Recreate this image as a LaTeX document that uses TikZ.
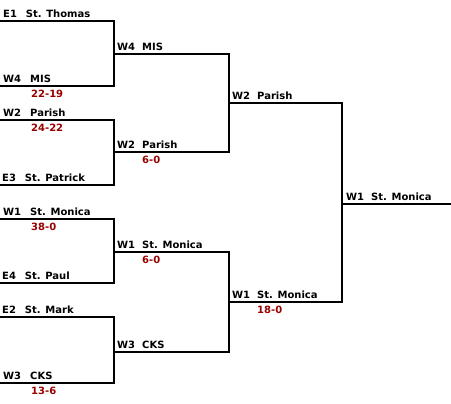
\documentclass[tikz,border=0pt]{standalone}
\usepackage{fontspec}
\setmainfont{DejaVu Sans}
\usetikzlibrary{positioning,calc}
\definecolor{ScoreRed}{HTML}{990000}
\begin{document}
\begin{tikzpicture}[x=1pt, y=-1pt, font=\bfseries\fontsize{10}{12}\selectfont]
\tikzset{team/.style={anchor=base west, inner sep=0pt}, score/.style={anchor=north west, inner sep=0pt, text=ScoreRed}, bline/.style={line width=2pt, black}}
\useasboundingbox (0,0) rectangle (451,404);
\coordinate (s1) at (0,21); \coordinate (s2) at (0,86); \coordinate (s3) at (0,120); \coordinate (s4) at (0,185);
\coordinate (s5) at (0,219); \coordinate (s6) at (0,283); \coordinate (s7) at (0,317); \coordinate (s8) at (0,383);
\coordinate (q1) at (114,54); \coordinate (q2) at (114,152); \coordinate (q3) at (114,252); \coordinate (q4) at (114,352);
\coordinate (h1) at (229,103); \coordinate (h2) at (229,302);
\coordinate (f) at (342,204); \coordinate (champ) at (451,204);
% bracket lines
\draw[bline] (s1) -| (q1) |- (s2); \draw[bline] (s3) -| (q2) |- (s4);
\draw[bline] (s5) -| (q3) |- (s6); \draw[bline] (s7) -| (q4) |- (s8);
\draw[bline] (q1) -| (h1) |- (q2); \draw[bline] (q3) -| (h2) |- (q4);
\draw[bline] (h1) -| (f) |- (h2);
\draw[bline] (f) -- (champ);
% first round
\node[team] (t1) at ($(s1)+(3,-3.5)$) {E1\hspace{9pt}St. Thomas};
\node[team] (t2) at ($(s2)+(3,-3.5)$) {W4\hspace{9pt}MIS};
\node[score] (r2) at ($(s2)+(31,3.5)$) {22-19};
\node[team] (t3) at ($(s3)+(3,-3.5)$) {W2\hspace{9pt}Parish};
\node[score] (r3) at ($(s3)+(31,3.5)$) {24-22};
\node[team] (t4) at ($(s4)+(2,-3.5)$) {E3\hspace{9pt}St. Patrick};
\node[team] (t5) at ($(s5)+(3,-3.5)$) {W1\hspace{9pt}St. Monica};
\node[score] (r5) at ($(s5)+(31,3.5)$) {38-0};
\node[team] (t6) at ($(s6)+(2,-3.5)$) {E4\hspace{9pt}St. Paul};
\node[team] (t7) at ($(s7)+(2,-3.5)$) {E2\hspace{9pt}St. Mark};
\node[team] (t8) at ($(s8)+(3,-3.5)$) {W3\hspace{9pt}CKS};
\node[score] (r8) at ($(s8)+(31,3.5)$) {13-6};
% later rounds
\node[team] (u1) at ($(q1)+(3,-3.5)$) {W4\hspace{7pt}MIS};
\node[team] (u2) at ($(q2)+(3,-3.5)$) {W2\hspace{7pt}Parish};
\node[score] (v2) at ($(q2)+(28,3.5)$) {6-0};
\node[team] (u3) at ($(q3)+(3,-3.5)$) {W1\hspace{7pt}St. Monica};
\node[score] (v3) at ($(q3)+(28,3.5)$) {6-0};
\node[team] (u4) at ($(q4)+(3,-3.5)$) {W3\hspace{7pt}CKS};
\node[team] (g1) at ($(h1)+(3,-3.5)$) {W2\hspace{7pt}Parish};
\node[team] (g2) at ($(h2)+(3,-3.5)$) {W1\hspace{7pt}St. Monica};
\node[score] (k2) at ($(h2)+(28,3.5)$) {18-0};
\node[team] (champion) at ($(f)+(4,-3.5)$) {W1\hspace{7pt}St. Monica};
\end{tikzpicture}
\end{document}
